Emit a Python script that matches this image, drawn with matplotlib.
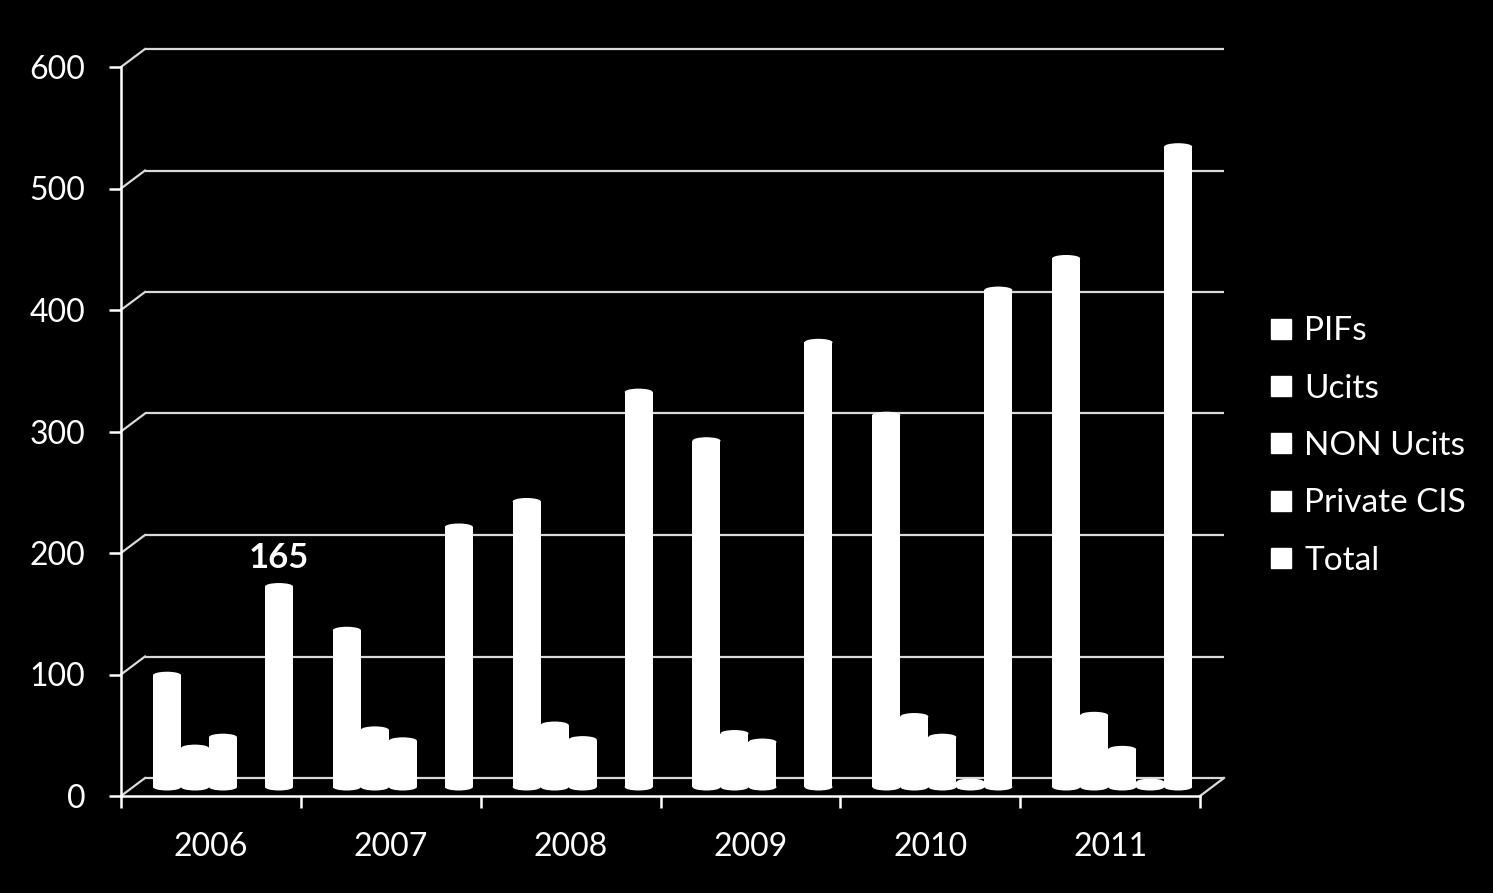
import matplotlib
matplotlib.use("Agg")
import matplotlib.pyplot as plt
from matplotlib.patches import Ellipse
from matplotlib.lines import Line2D
import numpy as np

plt.rcParams['font.family'] = ['Lato', 'DejaVu Sans']

years = ["2006", "2007", "2008", "2009", "2010", "2011"]
series_names = ["PIFs", "Ucits", "NON Ucits", "Private CIS", "Total"]
pifs = [92, 129, 235, 285, 306, 435]
ucits = [32, 47, 51, 44, 58, 59]
non_ucits = [41, 38, 39, 37, 41, 31]
private_cis = [0, 0, 0, 0, 4, 4]
total = [165, 214, 325, 366, 409, 527]
yticks = [0, 100, 200, 300, 400, 500, 600]
annotated_value = 165

series = [pifs, ucits, non_ucits, private_cis, total]

W, H, DPI = 1493, 893, 100
fig = plt.figure(figsize=(W / DPI, H / DPI), dpi=DPI, facecolor="black")

# front-plane axes (pixel geometry of reference)
x0, x1, y0, y1 = 121, 1200, 796, 67
ax = fig.add_axes([x0 / W, (H - y0) / H, (x1 - x0) / W, (y0 - y1) / H])
ax.set_facecolor("black")
ax.set_xlim(0, len(years))
ax.set_ylim(0, 600)

px_x = len(years) / (x1 - x0)      # data units per pixel, x
px_y = 600 / (y0 - y1)             # data units per pixel, y
back_dx, back_dy = 24 * px_x, 18 * px_y
mid_dx, mid_dy = 12 * px_x, 9 * px_y

grid_col = "#d9d9d9"
# back-wall gridlines and side diagonals
for v in yticks:
    ax.plot([back_dx, len(years) + back_dx], [v + back_dy, v + back_dy],
            color=grid_col, lw=1.6, zorder=1, clip_on=False, solid_capstyle="butt")
    ax.plot([0, back_dx], [v, v + back_dy], color=grid_col, lw=1.6, zorder=1,
            clip_on=False)
# floor right diagonal
ax.plot([len(years), len(years) + back_dx], [0, back_dy], color=grid_col, lw=1.6,
        zorder=1, clip_on=False)

# cylinder bars
bw = 28 * px_x
first = 20 * px_x + bw / 2
ell_h = 7 * px_y
for i, vals in enumerate(series):
    for j, v in enumerate(vals):
        if v <= 0:
            continue
        cx = j + first + i * bw + mid_dx
        ax.bar(cx, v, width=bw, bottom=mid_dy, color="white", linewidth=0,
               zorder=3 + i * 0.01, clip_on=False)
        ax.add_patch(Ellipse((cx, v + mid_dy), bw, ell_h, facecolor="white",
                             edgecolor="none", zorder=3 + i * 0.01, clip_on=False))
        ax.add_patch(Ellipse((cx, mid_dy), bw, ell_h, facecolor="white",
                             edgecolor="none", zorder=3 + i * 0.01, clip_on=False))

# data label on 2006 Total
cx_tot = 0 + first + 4 * bw + mid_dx
ax.annotate(str(annotated_value), xy=(cx_tot, annotated_value + mid_dy),
            xytext=(0, 9), textcoords="offset points", ha="center", va="bottom",
            color="white", fontsize=25, fontweight="bold", zorder=5)

# spines & ticks
for s in ["top", "right"]:
    ax.spines[s].set_visible(False)
for s in ["left", "bottom"]:
    ax.spines[s].set_color("white")
    ax.spines[s].set_linewidth(1.8)
    ax.spines[s].set_zorder(2)

ax.set_yticks(yticks)
ax.set_yticklabels([str(v) for v in yticks])
ax.tick_params(axis="y", colors="white", length=8.6, width=1.8, pad=17,
               labelsize=23)
ax.set_xticks(np.arange(len(years) + 1))
ax.set_xticklabels([])
ax.tick_params(axis="x", which="major", colors="white", length=8.6, width=1.8)
ax.set_xticks(np.arange(len(years)) + 0.5, minor=True)
ax.set_xticklabels(years, minor=True)
ax.tick_params(axis="x", which="minor", length=0, pad=26, labelsize=23,
               colors="white")

# legend
handles = [Line2D([], [], marker="s", linestyle="none", markersize=13.7,
                  markerfacecolor="white", markeredgecolor="white")
           for _ in series_names]
leg = fig.legend(handles, series_names, loc="center left",
                 bbox_to_anchor=(1271 / W, (H - 446) / H), frameon=False,
                 fontsize=24, labelcolor="white", handlelength=0.6,
                 handletextpad=0.4, labelspacing=0.82, borderaxespad=0,
                 borderpad=0)

fig.savefig("out.png", dpi=DPI, facecolor="black")
